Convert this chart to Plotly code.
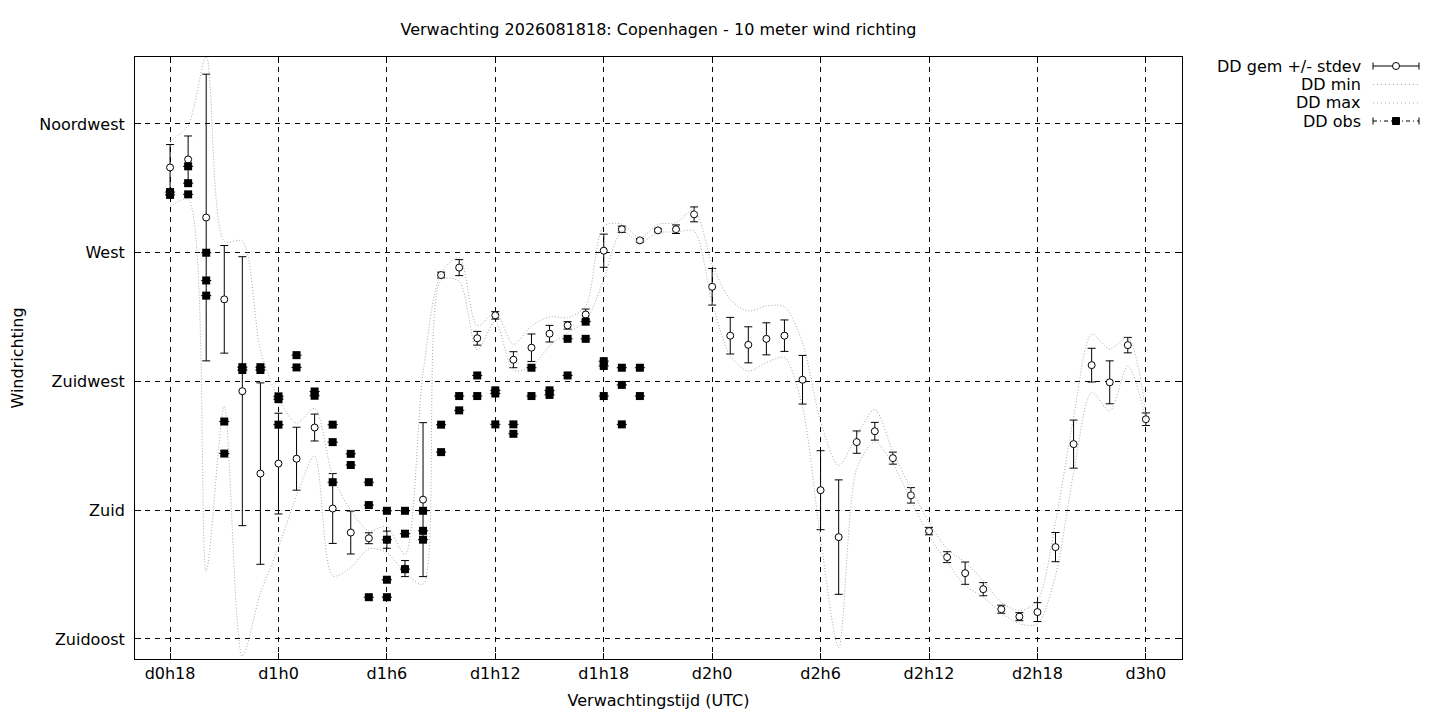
import plotly.graph_objects as go

# forecast hours since d0h0
uren = [18, 19, 20, 21, 22, 23, 24, 25, 26, 27, 28, 29, 30, 31, 32, 33, 34, 35, 36,
        37, 38, 39, 40, 41, 42, 43, 44, 45, 46, 47, 48, 49, 50, 51, 52, 53, 54, 55,
        56, 57, 58, 59, 60, 61, 62, 63, 64, 65, 66, 67, 68, 69, 70, 71, 72]

dd_gem = [299.8, 302.6, 282.3, 253.7, 221.6, 192.8, 196.3, 198.0, 208.9, 180.6, 172.2,
          170.2, 169.7, 159.6, 183.7, 262.2, 264.8, 240.1, 248.1, 232.6, 236.8, 241.7,
          244.6, 248.4, 270.7, 278.2, 274.3, 277.8, 278.2, 283.4, 258.1, 241.0, 237.8,
          239.9, 241.0, 225.6, 187.0, 170.6, 203.8, 207.6, 198.2, 185.2, 172.7, 163.6,
          158.0, 152.4, 145.4, 142.8, 144.4, 167.1, 203.1, 230.7, 224.7, 237.7, 211.8]

dd_stdev = [8.0, 8.2, 50.1, 18.8, 47.0, 31.7, 17.6, 11.0, 4.7, 12.2, 7.5, 1.9, 3.0, 2.8,
            26.9, 1.0, 2.8, 2.4, 1.3, 2.8, 4.8, 2.9, 1.3, 1.9, 5.8, 1.1, 0.6, 0.5, 1.5,
            2.6, 6.4, 6.4, 6.3, 5.6, 5.5, 8.5, 13.8, 20.0, 3.9, 3.1, 2.1, 2.7, 1.3, 1.9,
            3.9, 2.3, 1.4, 1.4, 3.3, 5.1, 8.4, 5.9, 7.5, 2.7, 2.2]

dd_min = [286.0, 288.7, 158.6, 216.3, 129.0, 151.0, 167.0, 185.0, 199.0, 157.0, 160.0,
          166.5, 165.2, 158.2, 154.1, 260.5, 260.0, 236.0, 246.0, 229.0, 230.0, 237.5,
          242.0, 246.0, 260.7, 277.5, 273.5, 277.0, 277.2, 277.5, 252.5, 234.0, 228.6,
          231.6, 233.3, 216.0, 170.0, 132.0, 194.5, 203.8, 196.2, 183.4, 171.1, 161.8,
          153.7, 149.6, 144.2, 140.3, 140.3, 157.2, 193.0, 221.2, 214.7, 230.5, 211.8]

dd_max = [309.0, 314.5, 338.5, 274.0, 274.0, 236.0, 219.0, 210.5, 215.5, 192.0, 180.0,
          172.8, 174.3, 164.5, 228.0, 263.0, 268.3, 244.4, 249.0, 238.0, 244.4, 247.6,
          247.3, 251.4, 279.3, 280.0, 275.2, 279.9, 280.5, 285.1, 265.9, 253.7, 249.6,
          251.4, 251.1, 238.5, 211.0, 195.6, 206.1, 215.2, 200.5, 187.5, 175.8, 166.5,
          161.8, 155.4, 147.8, 144.9, 148.4, 175.8, 212.4, 241.5, 236.3, 240.4, 214.2]

# observations (several per hour)
obs_uur = [18, 18, 19, 19, 19, 20, 20, 20, 21, 21, 22, 22, 23, 23, 24, 24, 24, 25, 25,
           26, 26, 27, 27, 27, 28, 28, 29, 29, 29, 30, 30, 30, 30, 31, 31, 31, 32, 32, 32,
           33, 33, 34, 34, 35, 35, 36, 36, 36, 37, 37, 38, 38, 39, 39, 40, 40, 41, 41,
           42, 42, 42, 43, 43, 43, 44, 44]
obs_dd = [291.2, 290.2, 300.2, 294.3, 290.4, 270.0, 260.3, 255.0, 211.0, 199.8, 230.0,
          229.0, 230.0, 229.0, 219.8, 218.8, 209.9, 234.2, 229.9, 221.5, 220.0, 209.9,
          203.8, 189.8, 199.7, 195.8, 189.8, 181.8, 149.6, 179.8, 169.7, 155.7, 149.6,
          179.8, 171.8, 159.4, 179.8, 172.8, 169.7, 209.9, 200.3, 219.9, 214.9, 227.1,
          219.9, 221.9, 220.8, 210.0, 210.0, 206.7, 229.8, 219.9, 221.9, 220.3, 239.9,
          227.1, 245.9, 239.9, 232.1, 230.4, 219.9, 229.8, 223.8, 210.0, 229.8, 219.9]

x_ticks = [18, 24, 30, 36, 42, 48, 54, 60, 66, 72]
x_labels = ['d0h18', 'd1h0', 'd1h6', 'd1h12', 'd1h18', 'd2h0', 'd2h6', 'd2h12', 'd2h18', 'd3h0']
y_ticks = [135, 180, 225, 270, 315]
y_labels = ['Zuidoost', 'Zuid', 'Zuidwest', 'West', 'Noordwest']

FONT = 'DejaVu Sans'
FS = 16
GRIJS = '#a8a8a8'
OFF = 8  # page body margin

fig = go.Figure()

# same drawing order as gnuplot: mean, min, max, obs on top
fig.add_trace(go.Scatter(x=uren, y=dd_gem, mode='markers', name='DD gem +/- stdev',
                         marker=dict(symbol='circle', size=7, color='white',
                                     line=dict(color='black', width=1)),
                         error_y=dict(type='data', array=dd_stdev, color='black',
                                      thickness=1, width=4)))

fig.add_trace(go.Scatter(x=uren, y=dd_min, mode='lines', name='DD min',
                         line=dict(color=GRIJS, width=1, dash='1px,2px', shape='spline', smoothing=0.8)))
fig.add_trace(go.Scatter(x=uren, y=dd_max, mode='lines', name='DD max',
                         line=dict(color=GRIJS, width=1, dash='1px,2px', shape='spline', smoothing=0.8)))

fig.add_trace(go.Scatter(x=obs_uur, y=obs_dd, mode='markers', name='DD obs',
                         marker=dict(symbol='square', size=8, color='black'),
                         error_x=dict(type='constant', value=0.28, color='black', thickness=1, width=0)))

# legend drawn gnuplot-style: text right aligned, sample on the right
def px(xp):
    return (xp - 135) / 1047

def py(yp):
    return (659 - yp) / 602

rijen = [('DD gem +/- stdev', 66), ('DD min', 84.5), ('DD max', 103), ('DD obs', 121)]
for tekst, yy in rijen:
    fig.add_annotation(x=px(1363), y=py(yy), xref='paper', yref='paper', text=tekst,
                       showarrow=False, xanchor='right', yanchor='middle',
                       font=dict(family=FONT, size=FS, color='black'))

shapes = []
x0, x1 = px(1373), px(1419)
# gem +/- stdev
y = py(66)
shapes.append(dict(type='line', xref='paper', yref='paper', x0=x0, x1=x1, y0=y, y1=y,
                   line=dict(color='black', width=1)))
for xe in (x0, x1):
    shapes.append(dict(type='line', xref='paper', yref='paper', x0=xe, x1=xe,
                       y0=py(62.5), y1=py(69.5), line=dict(color='black', width=1)))
shapes.append(dict(type='circle', xref='paper', yref='paper', x0=px(1392.5), x1=px(1399.5),
                   y0=py(62.5), y1=py(69.5), fillcolor='white', line=dict(color='black', width=1)))
# min / max
for yy in (84.5, 103):
    shapes.append(dict(type='line', xref='paper', yref='paper', x0=x0, x1=x1, y0=py(yy), y1=py(yy),
                       line=dict(color=GRIJS, width=1, dash='1px,3px')))
# obs
y = py(121)
shapes.append(dict(type='line', xref='paper', yref='paper', x0=x0, x1=x1, y0=y, y1=y,
                   line=dict(color='black', width=1, dash='4px,3px,1px,3px')))
for xe in (x0, x1):
    shapes.append(dict(type='line', xref='paper', yref='paper', x0=xe, x1=xe,
                       y0=py(117.5), y1=py(124.5), line=dict(color='black', width=1)))
shapes.append(dict(type='rect', xref='paper', yref='paper', x0=px(1392.5), x1=px(1399.5),
                   y0=py(117.5), y1=py(124.5), fillcolor='black', line=dict(color='black', width=1)))

fig.update_layout(
    width=1440, height=720,
    margin=dict(l=135 - OFF, r=1440 - 1182 + OFF, t=57 - OFF, b=720 - 659 + OFF),
    paper_bgcolor='white', plot_bgcolor='white',
    showlegend=False,
    shapes=shapes,
    font=dict(family=FONT, size=FS, color='black'),
    title=dict(text='Verwachting 2026081818: Copenhagen - 10 meter wind richting',
               x=(658.5 - OFF) / 1440, xanchor='center', y=1 - (29 - OFF) / 720, yanchor='middle',
               font=dict(family=FONT, size=FS, color='black')),
)

fig.update_xaxes(
    range=[16.06, 74.0], tickvals=x_ticks, ticktext=x_labels, automargin=False,
    showgrid=True, gridcolor='black', griddash='5px,5px', gridwidth=1,
    showline=True, linecolor='black', linewidth=1, mirror='ticks',
    ticks='inside', ticklen=6, tickcolor='black', zeroline=False,
    title=dict(text='Verwachtingstijd (UTC)', standoff=12, font=dict(family=FONT, size=FS)),
)
fig.update_yaxes(
    range=[128.0, 338.4], tickvals=y_ticks, ticktext=y_labels, automargin=False,
    showgrid=True, gridcolor='black', griddash='5px,5px', gridwidth=1,
    showline=True, linecolor='black', linewidth=1, mirror='ticks',
    ticks='inside', ticklen=6, tickcolor='black', zeroline=False,
    ticklabelstandoff=6,
    title=dict(text='Windrichting', standoff=14, font=dict(family=FONT, size=FS)),
)

fig.write_html('out.html')
